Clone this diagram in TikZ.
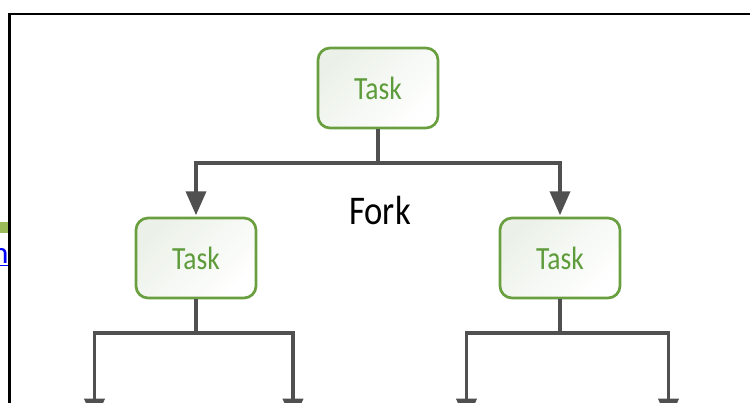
\documentclass[tikz,border=0pt]{standalone}
\usepackage{fontspec}
\setmainfont{Carlito}
\newfontfamily\taskfont[FakeStretch=0.85]{Carlito}
\usepackage{tikz}
\usetikzlibrary{calc,positioning,arrows.meta}
\definecolor{taskgreen}{HTML}{6A9F40}
\definecolor{tasktext}{HTML}{5E9B3A}
\definecolor{taskfill}{HTML}{EBF1E8}
\definecolor{flowgray}{HTML}{505050}
\definecolor{barGreen}{HTML}{9BBB59}
\tikzset{
	task/.style={draw=taskgreen, line width=1.9pt, rounded corners=0.3cm, minimum width=3cm, minimum height=2cm,
		top color=taskfill, bottom color=white, shading angle=45, text=tasktext, font=\taskfont\fontsize{23}{23}\selectfont},
	flow/.style={draw=flowgray, line width=2.7pt},
	flowarrow/.style={flow, -{Triangle[width=0.5cm,length=0.6cm]}, shorten >=1pt},
}
\begin{document}
\begin{tikzpicture}
		\useasboundingbox (0,0) rectangle (18.75,-10.075);
		% page frame
		\fill[barGreen] (0,-5.55) rectangle (0.22,-5.825);
		\node[anchor=base east, inner sep=0pt, text=blue, font=\fontsize{22}{22}\selectfont] at (0.22,-6.58) (m) {\underline{m}};
		\draw[line width=1.5pt] (0.2375,-10.075) |- (18.75,-0.35);
		% tasks
		\node[task] at (9.45,-2.2) (t) {Task};
		\node[task] at (4.9,-6.45) (tl) {Task};
		\node[task] at (14,-6.45) (tr) {Task};
		\node[font=\taskfont\fontsize{29}{29}\selectfont] at (9.5,-5.25) (fork) {Fork};
		% fork
		\coordinate (ft) at (9.45,-4.075);
		\draw[flow] (t) -- (ft);
		\foreach \n in {tl,tr}{
			\draw[flowarrow] (ft) -| (\n.north);
		}
		% second level
		\coordinate (fl) at (4.9,-8.325);
		\coordinate (fr) at (14,-8.325);
		\coordinate (l1) at (2.3625,-10.6);
		\coordinate (l2) at (7.325,-10.6);
		\coordinate (r1) at (11.6625,-10.6);
		\coordinate (r2) at (16.7125,-10.6);
		\draw[flow] (tl) -- (fl);
		\draw[flow] (tr) -- (fr);
		\foreach \a/\b in {fl/l1,fl/l2,fr/r1,fr/r2}{
			\draw[flowarrow] (\a) -| (\b);
		}
\end{tikzpicture}
\end{document}
